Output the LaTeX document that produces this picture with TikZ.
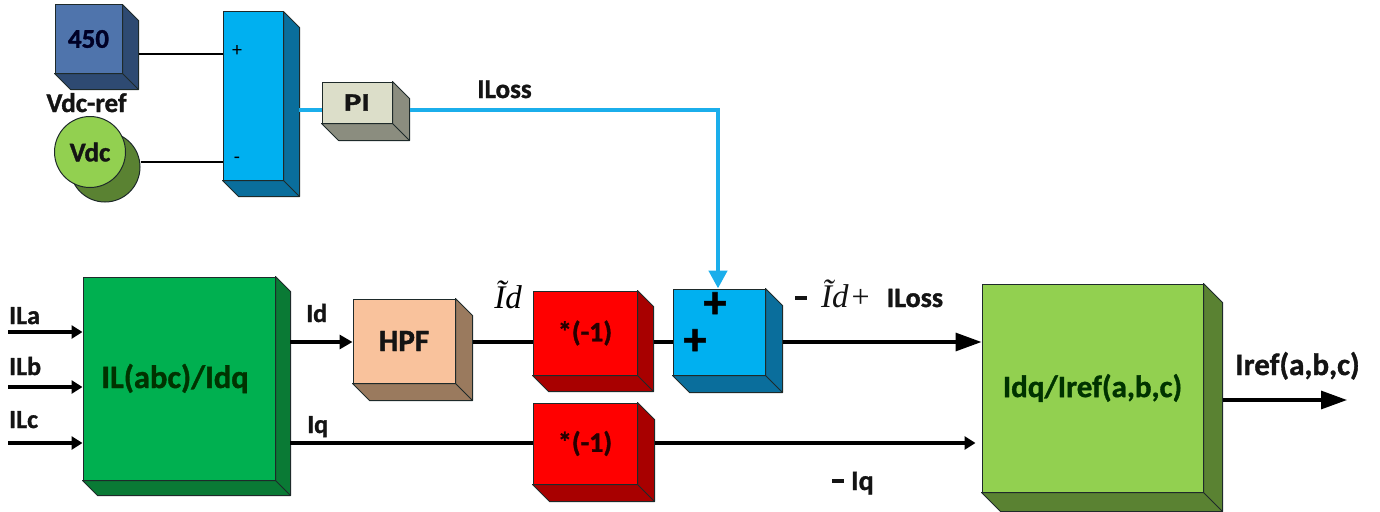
\documentclass[tikz,border=0pt]{standalone}
\usepackage{fontspec}
\setmainfont{Carlito}[BoldFeatures={FakeBold=1.2}]
\newfontfamily\tnr{Liberation Serif}
\usetikzlibrary{arrows.meta,calc}

\definecolor{edgecol}{HTML}{1E2A2A}
\definecolor{txt}{HTML}{141414}
\definecolor{steelF}{HTML}{4F74AC}
\definecolor{steelS}{HTML}{2E4A72}
\definecolor{cyanF}{HTML}{00B0F0}
\definecolor{cyanS}{HTML}{0A6E9C}
\definecolor{piF}{HTML}{DCDEC9}
\definecolor{piS}{HTML}{8B8D7F}
\definecolor{gF}{HTML}{00B050}
\definecolor{gS}{HTML}{0A7A35}
\definecolor{peachF}{HTML}{F9C29C}
\definecolor{peachS}{HTML}{9A7A5E}
\definecolor{redF}{HTML}{FF0000}
\definecolor{redS}{HTML}{A80000}
\definecolor{lgF}{HTML}{92D050}
\definecolor{lgS}{HTML}{5A8232}
\definecolor{lossline}{HTML}{1BAEEB}

\newcommand\fs[1]{\fontsize{#1}{#1}\selectfont}
% heavy minus sign used in the signal labels
\newcommand\heavyminus{\rule[7pt]{12pt}{3.6pt}}

% extruded faces (right and bottom) of a box node
\newcommand\boxdepth[3]{%
  \filldraw[fill=#3, draw=edgecol, line width=1pt, line join=round]
    (#1.north east) -- ($(#1.north east)+(#2,#2)$) -- ($(#1.south east)+(#2,#2)$)
    -- ($(#1.south west)+(#2,#2)$) -- (#1.south west) -- (#1.south east) -- cycle;
  \draw[edgecol, line width=1pt] (#1.south east) -- ++(#2,#2);
}

\begin{document}
\begin{tikzpicture}[x=1pt,y=-1pt,
  front/.style={draw=edgecol, line width=1pt, inner sep=0pt, text=txt,
    font=\fs{31}\bfseries},
  lbl/.style={inner sep=0pt, text=txt, font=\fs{26}\bfseries, anchor=base},
  thinwire/.style={line width=1.1pt, black},
  wire/.style={line width=3.2pt, black},
  tipS/.style={-{Triangle[length=11pt,width=13pt]}},
  tipM/.style={-{Triangle[length=13pt,width=14pt]}},
  tipL/.style={-{Triangle[length=26pt,width=18pt]}},
  lossw/.style={line width=4.5pt, lossline},
]
\useasboundingbox (0,0) rectangle (1380,511);

% ---------- DC-link voltage loop ----------
\node[front, fill=steelF, minimum width=67, minimum height=68,
      font=\fs{27}\bfseries, text=black!85!blue] (ref) at (88.5,39) {450};
\boxdepth{ref}{16}{steelS}
\node[lbl, font=\fs{27}\bfseries] (refl) at (86.5,112) {Vdc-ref};

\node[circle, draw=edgecol, line width=1pt, fill=lgS, minimum size=70, inner sep=0pt] (vdcb) at (105,167) {};
\node[circle, draw=edgecol, line width=1pt, fill=lgF, minimum size=71, inner sep=0pt,
      font=\fs{27}\bfseries, text=txt] (vdc) at (90,152) {Vdc};

\node[front, fill=cyanF, minimum width=60, minimum height=168] (sum) at (253,96) {};
\boxdepth{sum}{16}{cyanS}
\node[inner sep=0pt, font=\fs{20}] (sp) at (237,51) {+};
\node[inner sep=0pt, font=\fs{20}] (sm) at (237,160) {-};

\coordinate (sumin1) at (223,54);
\coordinate (sumin2) at (223,162);
\draw[thinwire] ($(ref.east)+(16,15)$) -- (sumin1);
\draw[thinwire] (vdcb.east |- sumin2) -- (sumin2);

\node[front, fill=piF, minimum width=70, minimum height=41,
      font=\fs{25}\bfseries] (pi) at (357,102.5) {\scalebox{1.3}[1]{PI}};
\boxdepth{pi}{17}{piS}

\coordinate (sumout) at (299,110);
\draw[lossw] (sumout) -- (sumout -| pi.west);

% ---------- current path ----------
\node[front, fill=gF, minimum width=192, minimum height=203,
      font=\fs{32.5}\bfseries, text=black!80!green] (park) at (179,378.5) {\hspace*{-8pt}IL(abc)/Idq};
\boxdepth{park}{15}{gS}

\node[front, fill=peachF, minimum width=102, minimum height=84] (hpf) at (404,341) {HPF};
\boxdepth{hpf}{17}{peachS}

\node[front, fill=redF, minimum width=104, minimum height=84,
      font=\fs{28}\bfseries, text=black!85!red] (neg1) at (585,333) {*(-1)};
\boxdepth{neg1}{16}{redS}

\node[front, fill=cyanF, minimum width=92, minimum height=86] (add) at (719,332) {};
\boxdepth{add}{17}{cyanS}
\node[inner sep=0pt, font=\fs{46}\bfseries] (addp1) at (715,305) {+};
\node[inner sep=0pt, font=\fs{46}\bfseries] (addp2) at (695,342) {+};

\node[front, fill=redF, minimum width=104, minimum height=81,
      font=\fs{28}\bfseries, text=black!85!red] (neg2) at (585,443.5) {*(-1)};
\boxdepth{neg2}{17}{redS}

\node[front, fill=lgF, minimum width=221, minimum height=208,
      font=\fs{31}\bfseries, text=black!80!green] (inv) at (1092.5,388) {Idq/Iref(a,b,c)};
\boxdepth{inv}{19}{lgS}

% loss current feed-forward
\coordinate (bend) at (718,110);
\draw[lossw, -{Triangle[length=18pt,width=18pt]}, line join=miter]
  ($(pi.east)+(17,7.5)$) -- (bend) -- (bend |- add.north);
\node[lbl, font=\fs{27}\bfseries] (lossl) at (504.5,98) {ILoss};

% phase currents in
\coordinate (ia) at (8,332);
\coordinate (ib) at (8,387);
\coordinate (ic) at (8,443);
\draw[wire, tipS] (ia) -- (ia -| park.west);
\draw[wire, tipS] (ib) -- (ib -| park.west);
\draw[wire, tipS] (ic) -- (ic -| park.west);
\node[lbl, anchor=base west] (ial) at (9,324) {ILa};
\node[lbl, anchor=base west] (ibl) at (9,375) {ILb};
\node[lbl, anchor=base west] (icl) at (9,428) {ILc};

% d axis
\coordinate (dout) at (290,342);
\draw[wire, tipM] (dout) -- (dout -| hpf.west);
\node[lbl, anchor=base west] (idl) at (306,322) {Id};
\draw[wire] ($(hpf.east)+(17,1)$) -- ($(neg1.west)+(0,9)$);
\node[inner sep=0pt, anchor=base, font=\fs{33}\tnr\itshape] (idt) at (508,308) {Ĩd};
\draw[wire] ($(neg1.east)+(16,9)$) -- ($(add.west)+(0,10)$);
\draw[wire, tipL] ($(add.east)+(17,10)$) -- ($(inv.west)+(0,-46)$);
\node[inner sep=0pt, anchor=base west, text=txt] (sumlbl) at (795,307)
  {\heavyminus\hspace{14pt}{\fs{33}\tnr\itshape Ĩd}{\fs{32}\tnr\hspace{3pt}+}\hspace{17pt}{\fs{28}\bfseries ILoss}};

% q axis
\coordinate (qout) at (290,443);
\draw[wire] (qout) -- (qout -| neg2.west);
\node[lbl, anchor=base west] (iql) at (307,433) {Iq};
\draw[wire, tipS, shorten >=6pt] ($(neg2.east)+(17,-0.5)$) -- ($(inv.west)+(0,55)$);
\node[lbl, anchor=base west, font=\fs{28}\bfseries] (miq) at (832,490) {\heavyminus\hspace{7pt}Iq};

% output
\coordinate (iout) at ($(inv.east)+(19,12)$);
\draw[wire, tipL] (iout) -- (1347,400);
\node[lbl, font=\fs{31}\bfseries] (irefl) at (1297.5,375) {Iref(a,b,c)};
\end{tikzpicture}
\end{document}
